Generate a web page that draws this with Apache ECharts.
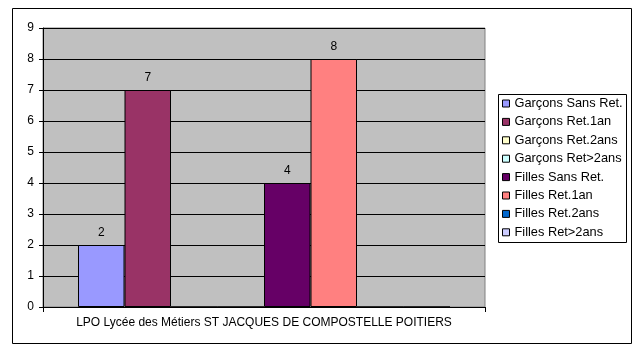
<!DOCTYPE html>
<html>
<head>
<meta charset="utf-8">
<script src="https://cdn.jsdelivr.net/npm/echarts@6/dist/echarts.min.js"></script>
<style>
html,body{margin:0;padding:0;background:#fff;}
#c{width:639px;height:347px;}
</style>
</head>
<body>
<div id="c"></div>
<script>
const categories = ["LPO Lycée des Métiers ST JACQUES DE COMPOSTELLE POITIERS"];
const seriesNames = ["Garçons Sans Ret.", "Garçons Ret.1an", "Garçons Ret.2ans", "Garçons Ret>2ans",
                     "Filles Sans Ret.", "Filles Ret.1an", "Filles Ret.2ans", "Filles Ret>2ans"];
const garconsSansRet = [2];
const garconsRet1an = [7];
const garconsRet2ans = [0];
const garconsRetPlus2ans = [0];
const fillesSansRet = [4];
const fillesRet1an = [8];
const fillesRet2ans = [0];
const fillesRetPlus2ans = [0];
const yTicks = [0, 1, 2, 3, 4, 5, 6, 7, 8, 9];

const seriesValues = [garconsSansRet, garconsRet1an, garconsRet2ans, garconsRetPlus2ans,
                      fillesSansRet, fillesRet1an, fillesRet2ans, fillesRetPlus2ans];
const colors = ['#9999FF', '#993366', '#FFFFCC', '#CCFFFF', '#660066', '#FF8080', '#0066CC', '#CCCCFF'];
const FONT = 'Liberation Sans, Arial, sans-serif';

const chart = echarts.init(document.getElementById('c'), null, {renderer: 'canvas'});
chart.setOption({
  animation: false,
  color: colors,
  textStyle: {fontFamily: FONT},
  grid: {
    left: 43, top: 28, right: 154, bottom: 40,
    show: true, backgroundColor: '#C0C0C0', borderColor: '#808080', borderWidth: 1
  },
  legend: {
    orient: 'vertical',
    left: 502, top: 97,
    padding: 0,
    icon: 'rect',
    itemWidth: 7, itemHeight: 7,
    itemGap: 5.4,
    data: seriesNames,
    textStyle: {fontSize: 12.8, color: '#000', fontFamily: FONT, lineHeight: 12, padding: [0,0,0,0]},
    itemStyle: {borderColor: '#000', borderWidth: 1}
  },
  xAxis: {
    type: 'category',
    data: categories,
    axisLine: {lineStyle: {color: '#000', width: 1}},
    axisTick: {show: true, length: 5, lineStyle: {color: '#000'}},
    axisLabel: {color: '#000', fontSize: 12, margin: 10, fontFamily: FONT},
    splitLine: {show: false}
  },
  yAxis: {
    type: 'value',
    min: yTicks[0], max: yTicks[yTicks.length - 1], interval: 1,
    axisLine: {show: true, lineStyle: {color: '#000', width: 1}},
    axisTick: {show: true, length: 4, lineStyle: {color: '#000'}},
    axisLabel: {color: '#000', fontSize: 12, margin: 9, fontFamily: FONT},
    splitLine: {show: true, lineStyle: {color: '#000', width: 1}}
  },
  graphic: [
    {type: 'rect', shape: {x: 12.5, y: 8.5, width: 619, height: 335},
     style: {fill: 'none', stroke: '#000', lineWidth: 1}, z: -1},
    {type: 'rect', shape: {x: 498.5, y: 94.5, width: 128, height: 148},
     style: {fill: '#fff', stroke: '#000', lineWidth: 1}, z: -1}
  ],
  series: seriesNames.map((name, i) => ({
    name: name,
    type: 'bar',
    data: seriesValues[i],
    barWidth: 46.5,
    barGap: '0%',
    itemStyle: {color: colors[i], borderColor: '#000', borderWidth: 1},
    label: {
      show: true, position: 'top', distance: 6,
      color: '#000', fontSize: 12, fontFamily: FONT,
      formatter: p => (p.value === 0 ? '' : String(p.value))
    }
  }))
});
</script>
</body>
</html>
